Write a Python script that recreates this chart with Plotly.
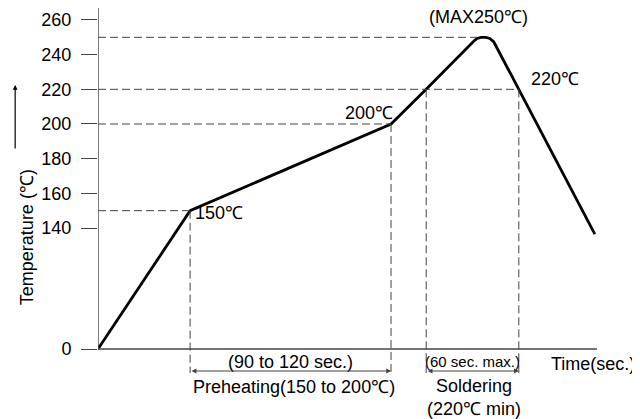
import plotly.graph_objects as go

# reflow profile
time_s = [0, 55, 175, 196, 223.9, 226.3, 228.7, 231.6, 234, 236.4, 251.3, 296.7]
temp_c = [0, 150, 200, 220, 247.3, 249.3, 250, 250, 249.3, 247.3, 220, 133]

y_ticks = [0, 140, 160, 180, 200, 220, 240, 260]
ref_levels = [(150, 55), (200, 175), (220, 251.3), (250, 226.3)]   # level, time where dash ends
ref_times = [(55, 150), (175, 200), (196, 220), (251.3, 220)]      # time, temp where dash starts
preheat = (55, 175)
solder = (196, 251.3)
peak_t = 229.5

FONT = "Liberation Sans, Arial, sans-serif"
GREY = "#444"


def u(t):
    # broken axis: 0..140 squeezed, 140..260 spread out
    if t <= 140:
        return t * 121 / 140
    return 121 + (t - 140) * 34.67 / 20


fig = go.Figure()
fig.add_trace(go.Scatter(
    x=time_s, y=[u(t) for t in temp_c], mode="lines",
    line=dict(color="black", width=2.8), showlegend=False, hoverinfo="skip",
))

shapes = []
# axes drawn by hand so they stop at zero
shapes.append(dict(type="line", xref="x", yref="y", x0=0, x1=298, y0=0, y1=0,
                   line=dict(color=GREY, width=1.4)))
shapes.append(dict(type="line", xref="x", yref="y", x0=0, x1=0, y0=0, y1=341,
                   line=dict(color=GREY, width=1.4)))
for lvl, t_end in ref_levels:
    shapes.append(dict(type="line", xref="x", yref="y", x0=0, x1=t_end, y0=u(lvl), y1=u(lvl),
                       line=dict(color=GREY, width=1, dash="8px,4px")))
for t, lvl in ref_times:
    shapes.append(dict(type="line", xref="x", yref="y", x0=t, x1=t, y0=u(lvl), y1=-24,
                       line=dict(color=GREY, width=1, dash="8px,4px")))

txt = dict(family=FONT, size=18, color="black")
ann = []
ann.append(dict(x=peak_t - 2, y=u(250) + 20, text="(MAX250℃)", showarrow=False, font=txt))
ann.append(dict(x=257.4, y=270, text="220℃", showarrow=False, xanchor="left", font=txt))
ann.append(dict(x=177.4, y=236, text="200℃", showarrow=False, xanchor="right", font=txt))
ann.append(dict(x=56.7, y=136, text="150℃", showarrow=False, xanchor="left", font=txt))
ann.append(dict(x=sum(preheat) / 2, y=-13, text="(90 to 120 sec.)", showarrow=False, font=txt))
ann.append(dict(x=sum(preheat) / 2 + 2, y=-38, text="Preheating(150 to 200℃)", showarrow=False, font=txt))
ann.append(dict(x=sum(solder) / 2, y=-12, text="(60 sec. max.)", showarrow=False,
                font=dict(family="Liberation Sans Narrow, Arial Narrow, sans-serif", size=15, color="black")))
ann.append(dict(x=sum(solder) / 2 + 1, y=-48, text="Soldering<br>(220℃ min)", showarrow=False, font=txt))
ann.append(dict(x=269.5, y=-15, text="Time(sec.)", showarrow=False, xanchor="left", font=txt))
for a, b in (preheat, solder):
    ann.append(dict(x=b, y=-22, ax=a, ay=-22, axref="x", ayref="y", text="",
                    showarrow=True, arrowside="end+start", arrowhead=2, arrowsize=0.8,
                    arrowwidth=1.2, arrowcolor=GREY))
# y title with arrow
ann.append(dict(xref="paper", x=-0.166, y=112, text="Temperature (℃)", textangle=-90,
                showarrow=False, font=txt))
ann.append(dict(xref="paper", x=-0.166, y=264, ax=0, ay=65, text="", showarrow=True,
                arrowhead=2, arrowsize=0.8, arrowwidth=1.2, arrowcolor="black"))

# page body has an 8px margin, so the figure is 8px smaller and shifted
fig.update_layout(
    width=632, height=411,
    margin=dict(l=90, r=43, t=0, b=0),
    plot_bgcolor="white", paper_bgcolor="white",
    shapes=shapes, annotations=ann,
    xaxis=dict(range=[0, 298], showgrid=False, zeroline=False, showticklabels=False,
               showline=False, ticks=""),
    yaxis=dict(range=[-70, 341], showgrid=False, zeroline=False, showline=False,
               tickvals=[u(t) for t in y_ticks], ticktext=[str(t) for t in y_ticks],
               ticks="outside", ticklen=16, tickwidth=1.4, tickcolor=GREY,
               ticklabelstandoff=6, tickfont=txt),
)

fig.write_html("out.html")
